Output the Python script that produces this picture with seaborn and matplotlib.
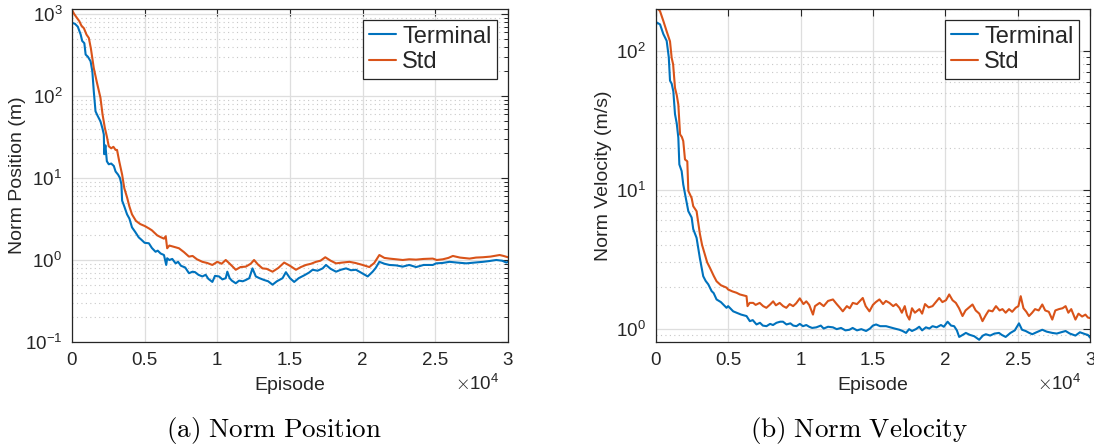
import numpy as np
import pandas as pd
import seaborn as sns
import matplotlib.pyplot as plt

#===========================================================================#
#### Data (episodes, value)
#===========================================================================#
pos_term_ep = [0, 200, 400, 600, 700, 850, 940, 1100, 1280, 1400, 1500, 1620, 1750, 1960,
               2100, 2190, 2220, 2300, 2400, 2530, 2700, 2880, 3000, 3170, 3300, 3400, 3450,
               3600, 3790, 3950, 4130, 4350, 4590, 4800, 5000, 5290, 5500, 5750, 5900, 6100,
               6330, 6485, 6550, 6700, 6900, 7130, 7300, 7500, 7790, 8050, 8300, 8470, 8700,
               8970, 9200, 9380, 9660, 9840, 10120, 10350, 10580, 10690, 10850, 11000, 11270,
               11500, 11750, 11960, 12200, 12420, 12650, 12900, 13220, 13500, 13800, 14100,
               14490, 14720, 15000, 15290, 15600, 15980, 16300, 16560, 16900, 17250, 17480,
               17800, 18170, 18500, 18860, 19200, 19540, 19900, 20350, 20690, 20900, 21150,
               21500, 21840, 22300, 22760, 23200, 23680, 24200, 24830, 25060, 25500, 25980,
               26500, 27130, 27700, 28280, 28700, 29200, 29600, 29890, 30000]
pos_term = [780, 760, 700, 560, 470, 440, 320, 300, 265, 200, 114, 65, 58, 49,
            40, 34, 19.5, 25, 16, 14.7, 15, 14, 12, 11, 10, 8.4, 5.3,
            4.5, 3.6, 3.2, 2.5, 2.2, 1.89, 1.75, 1.62, 1.6, 1.4, 1.26, 1.3, 1.2,
            1.15, 0.87, 1.05, 1.0, 1.03, 0.91, 0.95, 0.85, 0.81, 0.69, 0.72, 0.71, 0.66,
            0.63, 0.66, 0.59, 0.54, 0.64, 0.63, 0.58, 0.60, 0.72, 0.60, 0.56, 0.52,
            0.56, 0.55, 0.57, 0.60, 0.79, 0.63, 0.60, 0.57, 0.55, 0.50, 0.55,
            0.60, 0.71, 0.60, 0.54, 0.60, 0.65, 0.70, 0.76, 0.74, 0.79, 0.87,
            0.78, 0.72, 0.76, 0.79, 0.75, 0.76, 0.70, 0.63, 0.72, 0.80, 0.95,
            0.90, 0.87, 0.86, 0.83, 0.87, 0.82, 0.87, 0.87, 0.91, 0.92, 0.95,
            0.93, 0.91, 0.93, 0.95, 0.97, 1.0, 0.98, 0.93, 0.95]

pos_std_ep = [0, 150, 360, 500, 650, 820, 1000, 1160, 1300, 1500, 1700, 1960, 2100, 2260,
              2400, 2530, 2700, 2850, 3000, 3100, 3250, 3450, 3600, 3790, 3950, 4130, 4400,
              4700, 5000, 5290, 5500, 5860, 6100, 6330, 6450, 6550, 6700, 7000, 7360, 7700,
              8050, 8300, 8600, 8970, 9300, 9660, 10000, 10300, 10580, 10800, 11000, 11270,
              11600, 11960, 12300, 12530, 12800, 13110, 13400, 13800, 14200, 14600, 15000,
              15410, 15750, 16100, 16450, 16790, 17100, 17430, 17800, 18170, 18600, 19090,
              19500, 20000, 20460, 20800, 21150, 21500, 21840, 22300, 22760, 23200, 23680,
              24200, 24830, 25100, 25520, 25900, 26210, 26700, 27360, 27800, 28280, 28800,
              29430, 29700, 30000]
pos_std = [1120, 1000, 885, 820, 720, 670, 560, 510, 380, 219, 150, 95, 60, 41,
           32, 24.4, 23, 24, 22, 22, 16, 11, 7.5, 5.8, 4.5, 3.6, 3.0,
           2.74, 2.6, 2.43, 2.3, 2.0, 1.9, 1.82, 1.95, 1.39, 1.5, 1.45, 1.39, 1.25,
           1.10, 1.12, 1.02, 0.95, 0.92, 0.87, 0.95, 0.90, 1.0, 0.92, 0.85, 0.76,
           0.82, 0.83, 0.90, 1.0, 0.88, 0.79, 0.78, 0.72, 0.80, 0.93, 0.85,
           0.76, 0.82, 0.87, 0.90, 0.95, 0.98, 1.08, 0.98, 0.91, 0.93, 0.95,
           0.92, 0.87, 0.82, 0.92, 1.15, 1.06, 1.04, 1.02, 1.0, 1.02, 1.01,
           1.03, 1.04, 1.0, 1.02, 1.06, 1.12, 1.07, 1.04, 1.07, 1.08, 1.10,
           1.15, 1.12, 1.08]

vel_term_ep = [0, 67, 296, 525, 755, 900, 985, 1100, 1215, 1330, 1450, 1560, 1630, 1790,
               1900, 2050, 2250, 2480, 2590, 2820, 3050, 3280, 3450, 3630, 3860, 4000, 4200,
               4500, 4890, 5000, 5350, 5580, 5900, 6270, 6500, 6700, 6960, 7200, 7400, 7650,
               7900, 8100, 8340, 8600, 8790, 9030, 9300, 9500, 9720, 9950, 10170, 10400,
               10600, 10800, 11090, 11400, 11600, 11900, 12240, 12500, 12800, 13100, 13380,
               13600, 13900, 14200, 14530, 14800, 15000, 15220, 15500, 15910, 16200, 16500,
               16830, 17050, 17290, 17500, 17700, 17970, 18200, 18400, 18660, 18900, 19120,
               19400, 19700, 19900, 20160, 20400, 20610, 20800, 20960, 21200, 21420, 21700,
               22000, 22340, 22600, 22800, 23100, 23400, 23710, 23900, 24170, 24500, 24800,
               25090, 25300, 25550, 25800, 26010, 26300, 26700, 27000, 27390, 27700, 28000,
               28310, 28600, 28990, 29300, 29680, 29850, 30000]
vel_term = [150, 160, 155, 132, 118, 90, 61, 58, 51, 35, 30, 23.7, 15.2, 13.6,
            10.9, 9.0, 7.0, 6.3, 5.2, 4.5, 3.2, 2.38, 2.2, 2.08, 1.86, 1.8, 1.62,
            1.55, 1.41, 1.45, 1.33, 1.30, 1.26, 1.23, 1.13, 1.15, 1.07, 1.10, 1.05, 1.04,
            1.08, 1.06, 1.10, 1.12, 1.12, 1.07, 1.09, 1.05, 1.04, 1.08, 1.04, 1.06,
            1.03, 1.01, 1.02, 1.05, 1.00, 1.03, 1.02, 0.99, 1.01, 0.97, 0.98,
            1.01, 0.97, 0.99, 0.96, 1.0, 1.05, 1.07, 1.04, 1.04, 1.02, 1.0,
            0.98, 0.96, 0.93, 0.99, 0.96, 0.99, 1.03, 0.97, 1.02, 1.0, 1.04,
            1.02, 1.06, 1.03, 1.12, 1.05, 1.04, 0.97, 0.87, 0.90, 0.93, 0.90,
            0.88, 0.83, 0.89, 0.91, 0.89, 0.92, 0.93, 0.90, 0.87, 0.93, 0.97,
            1.09, 0.98, 0.96, 0.93, 0.91, 0.94, 0.98, 0.95, 0.93, 0.92, 0.94,
            0.96, 0.92, 0.89, 0.94, 0.91, 0.90, 0.86]

vel_std_ep = [0, 67, 296, 525, 755, 985, 1100, 1200, 1330, 1450, 1560, 1680, 1800, 1900,
              2020, 2180, 2250, 2350, 2480, 2590, 2820, 3050, 3200, 3400, 3550, 3740, 4000,
              4200, 4500, 4890, 5000, 5300, 5580, 5810, 6000, 6270, 6340, 6490, 6730, 6900,
              7180, 7420, 7640, 7900, 8110, 8300, 8560, 8800, 9020, 9250, 9490, 9700, 9950,
              10200, 10400, 10600, 10860, 11000, 11320, 11600, 11900, 12240, 12500, 12700,
              12920, 13200, 13400, 13610, 13900, 14100, 14300, 14500, 14760, 15000, 15200,
              15450, 15700, 15900, 16140, 16400, 16600, 16830, 17000, 17200, 17350, 17520,
              17700, 17900, 18210, 18400, 18600, 18850, 19120, 19350, 19580, 19800, 20050,
              20270, 20500, 20730, 20950, 21190, 21400, 21650, 21880, 22100, 22350, 22570,
              22800, 23000, 23260, 23500, 23750, 23950, 24170, 24400, 24620, 24860, 25050,
              25210, 25400, 25600, 25780, 26000, 26200, 26450, 26700, 26900, 27150, 27390,
              27600, 27850, 28100, 28310, 28500, 28700, 28990, 29200, 29450, 29680, 29850,
              30000]
vel_std = [200, 205, 193, 164, 138, 117, 89, 80, 54, 48, 41, 25, 24, 22.4,
           16.5, 16, 9.8, 9.3, 8.7, 7.6, 7.0, 4.8, 4.0, 3.4, 3.0, 2.74, 2.4,
           2.19, 2.05, 1.97, 1.91, 1.85, 1.81, 1.76, 1.74, 1.71, 1.45, 1.53, 1.53, 1.48,
           1.53, 1.45, 1.41, 1.49, 1.57, 1.47, 1.53, 1.45, 1.41, 1.50, 1.45, 1.52, 1.65,
           1.50, 1.57, 1.48, 1.26, 1.45, 1.53, 1.45, 1.58, 1.62, 1.50, 1.42,
           1.33, 1.45, 1.40, 1.53, 1.50, 1.58, 1.66, 1.45, 1.33, 1.48, 1.55,
           1.62, 1.50, 1.58, 1.53, 1.45, 1.50, 1.41, 1.30, 1.45, 1.25, 1.16,
           1.40, 1.30, 1.38, 1.28, 1.50, 1.42, 1.45, 1.55, 1.66, 1.55, 1.60,
           1.76, 1.60, 1.53, 1.40, 1.23, 1.35, 1.42, 1.49, 1.35, 1.28, 1.13,
           1.25, 1.35, 1.33, 1.45, 1.35, 1.38, 1.30, 1.38, 1.32, 1.41, 1.45,
           1.71, 1.40, 1.32, 1.23, 1.30, 1.38, 1.35, 1.49, 1.35, 1.32, 1.16,
           1.35, 1.38, 1.40, 1.45, 1.30, 1.38, 1.16, 1.28, 1.22, 1.26, 1.20,
           1.19]

x_ticks = [0, 5000, 10000, 15000, 20000, 25000, 30000]
x_ticklabels = ['0', '0.5', '1', '1.5', '2', '2.5', '3']

#===========================================================================#
#### Style
#===========================================================================#
sns.set_theme(style="whitegrid")
plt.rcParams['font.family'] = ['Liberation Sans', 'DejaVu Sans']
plt.rcParams['mathtext.fontset'] = 'cm'

blue = '#0072BD'
orange = '#D95319'
ink = '#262626'

fig = plt.figure(figsize=(10.94, 4.46), dpi=100)
ax1 = fig.add_axes([0.0658, 0.2332, 0.3985, 0.7466])
ax2 = fig.add_axes([0.5994, 0.2332, 0.3970, 0.7466])


def draw(ax, ep_t, val_t, ep_s, val_s, ylim, ylabel, ylabelpad):
    sns.lineplot(x=ep_t, y=val_t, ax=ax, color=blue, lw=1.5, label='Terminal',
                 estimator=None, sort=False)
    sns.lineplot(x=ep_s, y=val_s, ax=ax, color=orange, lw=1.5, label='Std',
                 estimator=None, sort=False)
    ax.set_yscale('log')
    ax.set_ylim(*ylim)
    ax.set_xlim(0, 30000)
    ax.set_xticks(x_ticks)
    ax.set_xticklabels(x_ticklabels)
    ax.set_facecolor('white')

    # MATLAB-ish grid
    ax.grid(True, which='major', color='#dedede', lw=0.9, ls='-')
    ax.grid(True, which='minor', axis='y', color='#c8c8c8', lw=0.8, ls=(0, (1, 3)))
    ax.set_axisbelow(True)

    ax.tick_params(which='both', direction='in', top=True, right=True,
                   colors=ink, labelsize=13.5, pad=7)
    ax.tick_params(which='major', length=5, width=0.8)
    ax.tick_params(which='minor', length=3, width=0.7)
    for s in ax.spines.values():
        s.set_color(ink)
        s.set_linewidth(0.9)

    ax.set_xlabel('Episode', fontsize=14, color=ink, labelpad=6)
    ax.set_ylabel(ylabel, fontsize=14, color=ink, labelpad=ylabelpad)
    ax.text(0.98, -0.125, r'$\times\mathdefault{10^{4}}$', transform=ax.transAxes,
            ha='right', va='center', fontsize=13.5, color=ink)

    leg = ax.legend(loc='upper right', fontsize=17, frameon=True, fancybox=False,
                    framealpha=1, edgecolor=ink, handlelength=1.15, handletextpad=0.25,
                    borderpad=0.25, labelspacing=0.15, borderaxespad=0.45)
    leg.get_frame().set_linewidth(0.9)


draw(ax1, pos_term_ep, pos_term, pos_std_ep, pos_std, (0.1, 1150), 'Norm Position (m)', -1)
draw(ax2, vel_term_ep, vel_term, vel_std_ep, vel_std, (0.8, 200), 'Norm Velocity (m/s)', 3)

fig.text(0.25, 0.035, r'$\mathrm{(a)\ Norm\ Position}$', ha='center', va='center',
         fontsize=19.5, color='black')
fig.text(0.785, 0.035, r'$\mathrm{(b)\ Norm\ Velocity}$', ha='center', va='center',
         fontsize=19.5, color='black')

fig.savefig('out.png', dpi=100)
